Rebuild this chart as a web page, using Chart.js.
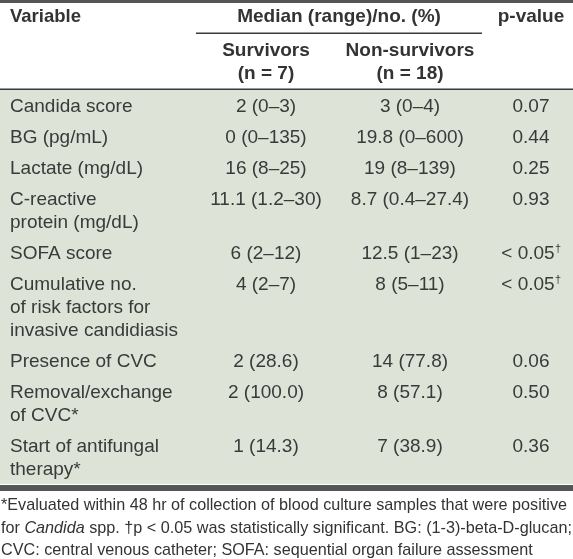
<!DOCTYPE html>
<html><head><meta charset="utf-8">
<script src="https://cdn.jsdelivr.net/npm/chart.js@4/dist/chart.umd.min.js"></script>
<style>
html,body{margin:0;padding:0;background:#fff;}
#wrap{position:relative;width:573px;height:559px;overflow:hidden;}
canvas{position:absolute;left:0;top:0;}
#note{position:absolute;left:1px;top:493px;font:16.2px "Liberation Sans",Arial,sans-serif;line-height:22.5px;color:#333;white-space:nowrap;}
</style></head>
<body>
<div id="wrap">
<canvas id="c" width="573" height="559"></canvas>
<div id="note">*Evaluated within 48 hr of collection of blood culture samples that were positive<br>for <i>Candida</i> spp. †p &lt; 0.05 was statistically significant. BG: (1-3)-beta-D-glucan;<br>CVC: central venous catheter; SOFA: sequential organ failure assessment</div>
</div>
<script>
// ---- data ----
const headerVariable = "Variable";
const headerGroup = "Median (range)/no. (%)";
const headerSurvivors = ["Survivors", "(n = 7)"];
const headerNonSurvivors = ["Non-survivors", "(n = 18)"];
const headerP = "p-value";
const variables = [
  ["Candida score"],
  ["BG (pg/mL)"],
  ["Lactate (mg/dL)"],
  ["C-reactive", "protein (mg/dL)"],
  ["SOFA score"],
  ["Cumulative no.", "of risk factors for", "invasive candidiasis"],
  ["Presence of CVC"],
  ["Removal/exchange", "of CVC*"],
  ["Start of antifungal", "therapy*"]
];
const survivors = ["2 (0–3)", "0 (0–135)", "16 (8–25)", "11.1 (1.2–30)", "6 (2–12)", "4 (2–7)", "2 (28.6)", "2 (100.0)", "1 (14.3)"];
const nonSurvivors = ["3 (0–4)", "19.8 (0–600)", "19 (8–139)", "8.7 (0.4–27.4)", "12.5 (1–23)", "8 (5–11)", "14 (77.8)", "8 (57.1)", "7 (38.9)"];
const pValues = ["0.07", "0.44", "0.25", "0.93", "< 0.05", "< 0.05", "0.06", "0.50", "0.36"];
const pMarks = ["", "", "", "", "†", "†", "", "", ""];

// ---- layout ----
const ROW_PAD = 0.35;            // padding per row, in line units
const COL = {variable: 10, surv: 266, non: 410, p: 531, groupL: 196, groupR: 482};
const FONT = '"Liberation Sans", Arial, sans-serif';
const TXT = '#3a3a3a';

const rowTops = [];
let acc = 0;
variables.forEach(v => { rowTops.push(acc); acc += v.length + ROW_PAD; });
const totalUnits = acc;

const cellPoints = [];
variables.forEach((v, i) => {
  [COL.surv, COL.non, COL.p].forEach(cx => cellPoints.push({x: cx, y: rowTops[i] + ROW_PAD / 2 + 0.5}));
});

const tablePlugin = {
  id: 'table',
  beforeDraw(chart) {
    const {ctx, chartArea: a, width} = chart;
    ctx.save();
    ctx.fillStyle = '#fff';
    ctx.fillRect(0, 0, width, chart.height);
    ctx.fillStyle = '#dde3d7';
    ctx.fillRect(0, a.top, width, a.bottom - a.top);
    ctx.restore();
  },
  afterDraw(chart) {
    const {ctx, chartArea: a, scales: {x, y}, width} = chart;
    ctx.save();
    // rules
    ctx.fillStyle = '#555';
    ctx.fillRect(0, 0, width, 3);
    ctx.fillRect(0, a.bottom + 1, width, 6);
    ctx.fillStyle = '#3a3a3a';
    ctx.fillRect(0, a.top - 1.5, width, 1.5);
    ctx.fillRect(x.getPixelForValue(COL.groupL), 32.5, x.getPixelForValue(COL.groupR) - x.getPixelForValue(COL.groupL), 1.5);

    // header
    ctx.fillStyle = '#333';
    ctx.textBaseline = 'middle';
    ctx.font = 'bold 18.5px ' + FONT;
    ctx.textAlign = 'left';
    ctx.fillText(headerVariable, x.getPixelForValue(COL.variable), 17);
    ctx.textAlign = 'center';
    ctx.font = 'bold 19px ' + FONT;
    ctx.fillText(headerGroup, (x.getPixelForValue(COL.groupL) + x.getPixelForValue(COL.groupR)) / 2, 17);
    ctx.fillText(headerP, x.getPixelForValue(COL.p), 17);
    headerSurvivors.forEach((t, k) => ctx.fillText(t, x.getPixelForValue(COL.surv), 51 + 23 * k));
    headerNonSurvivors.forEach((t, k) => ctx.fillText(t, x.getPixelForValue(COL.non), 51 + 23 * k));

    // body
    ctx.fillStyle = TXT;
    const BF = '19px ' + FONT;
    ctx.font = BF;
    variables.forEach((lines, i) => {
      const first = rowTops[i] + ROW_PAD / 2 + 0.5;
      ctx.textAlign = 'left';
      lines.forEach((t, k) => ctx.fillText(t, x.getPixelForValue(COL.variable), y.getPixelForValue(first + k) + 1));
      const py = y.getPixelForValue(first) + 1;
      ctx.textAlign = 'center';
      ctx.fillText(survivors[i], x.getPixelForValue(COL.surv), py);
      ctx.fillText(nonSurvivors[i], x.getPixelForValue(COL.non), py);
      // p-value with optional superscript
      ctx.font = BF;
      const w1 = ctx.measureText(pValues[i]).width;
      ctx.font = '11px ' + FONT;
      const w2 = pMarks[i] ? ctx.measureText(pMarks[i]).width : 0;
      const startX = x.getPixelForValue(COL.p) - (w1 + w2) / 2;
      ctx.textAlign = 'left';
      ctx.font = BF;
      ctx.fillText(pValues[i], startX, py);
      if (pMarks[i]) {
        ctx.font = '11px ' + FONT;
        ctx.fillText(pMarks[i], startX + w1 + 0.5, py - 5);
      }
      ctx.font = BF;
    });
    ctx.restore();
  }
};

new Chart(document.getElementById('c'), {
  type: 'scatter',
  data: {datasets: [{data: cellPoints, pointRadius: 0, pointHoverRadius: 0}]},
  options: {
    responsive: false,
    devicePixelRatio: 1,
    animation: false,
    events: [],
    layout: {padding: {top: 90, bottom: 75, left: 0, right: 0}},
    plugins: {legend: {display: false}, tooltip: {enabled: false}},
    scales: {
      x: {type: 'linear', min: 0, max: 573, display: false},
      y: {type: 'linear', min: 0, max: totalUnits, reverse: true, display: false}
    }
  },
  plugins: [tablePlugin]
});
</script>
</body></html>
